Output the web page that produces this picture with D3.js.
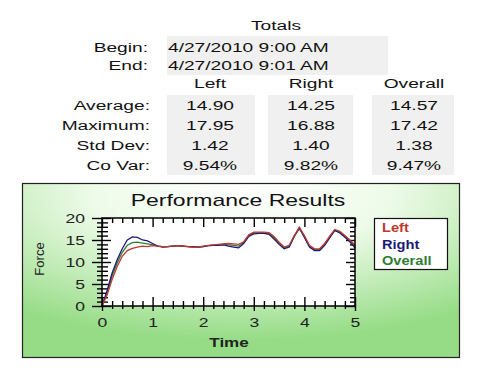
<!DOCTYPE html>
<html>
<head>
<meta charset="utf-8">
<script src="https://cdn.jsdelivr.net/npm/d3@7"></script>
<style>
  body { margin: 0; background: #fff; }
  svg { display: block; font-family: "Liberation Sans", Arial, sans-serif; }
</style>
</head>
<body>
<svg id="chart" width="500" height="375"></svg>
<script>
// Summary table
const dateLabels = ['Begin:', 'End:'];
const dateValues = ['4/27/2010 9:00 AM', '4/27/2010 9:01 AM'];
const columns = ['Left', 'Right', 'Overall'];
const statLabels = ['Average:', 'Maximum:', 'Std Dev:', 'Co Var:'];
const statValues = [
  ['14.90', '17.95', '1.42', '9.54%'],
  ['14.25', '16.88', '1.40', '9.82%'],
  ['14.57', '17.42', '1.38', '9.47%']
];

const time = [0, 0.1, 0.2, 0.3, 0.4, 0.5, 0.6, 0.7, 0.8, 0.9,
  1.0, 1.1, 1.2, 1.3, 1.4, 1.5, 1.6, 1.7, 1.8, 1.9,
  2.0, 2.1, 2.2, 2.3, 2.4, 2.5, 2.6, 2.7, 2.8, 2.9,
  3.0, 3.1, 3.2, 3.3, 3.4, 3.5, 3.6, 3.7, 3.8, 3.9,
  4.0, 4.1, 4.2, 4.3, 4.4, 4.5, 4.6, 4.7, 4.8, 4.9, 5.0];
const leftForce = [0, 2.5, 6, 9, 11.3, 12.6, 13.1, 13.4, 13.6, 13.5,
  13.7, 13.6, 13.5, 13.5, 13.6, 13.7, 13.6, 13.5, 13.4, 13.4,
  13.6, 13.8, 13.9, 14, 14.1, 14.2, 14.1, 14, 14.6, 16.2,
  16.8, 16.8, 16.8, 16.7, 15.8, 14.5, 13.4, 13.8, 16, 17.9,
  16, 13.8, 13, 13, 14.2, 15.9, 17.4, 17, 16, 15, 13.8];
const rightForce = [0, 3.5, 7.5, 10.5, 13, 15, 15.7, 15.6, 15, 14.8,
  14.2, 13.6, 13.4, 13.5, 13.6, 13.7, 13.6, 13.5, 13.5, 13.4,
  13.5, 13.7, 13.8, 13.8, 13.9, 13.6, 13.4, 13.2, 14.2, 15.8,
  16.4, 16.5, 16.5, 16.3, 15.2, 14, 13, 13.4, 15.8, 17.8,
  15.6, 13.4, 12.6, 12.6, 13.8, 15.5, 17.2, 16.6, 15.6, 14.6, 13.2];
const overallForce = [0, 3, 6.8, 9.8, 12.2, 13.8, 14.4, 14.5, 14.3, 14.1,
  13.9, 13.6, 13.5, 13.5, 13.6, 13.7, 13.6, 13.5, 13.4, 13.4,
  13.5, 13.7, 13.8, 13.9, 14, 13.9, 13.8, 13.6, 14.4, 16,
  16.6, 16.6, 16.6, 16.5, 15.5, 14.2, 13.2, 13.6, 15.9, 17.6,
  15.8, 13.6, 12.8, 12.8, 14, 15.7, 17.2, 16.8, 15.8, 14.8, 13.5];
const seriesNames = ['Left', 'Right', 'Overall'];
const seriesColors = ['#c0392b', '#1a1a7a', '#2e7d32'];
const xTicks = [0, 1, 2, 3, 4, 5];
const yTicks = [0, 5, 10, 15, 20];

const svg = d3.select('#chart');

// the source picture is stretched sideways, so text is widened to match
const SX = 1.42;
function label(x, y, str, size, anchor, opts = {}) {
  return svg.append('text')
    .attr('transform', `translate(${x},${y}) scale(${opts.sx || SX},1)`)
    .attr('text-anchor', anchor || 'start')
    .attr('font-size', size)
    .attr('font-weight', opts.bold ? 'bold' : null)
    .attr('fill', opts.fill || '#111')
    .text(str);
}

// ---- Totals table ----
label(276, 30, 'Totals', 13.5, 'middle');

svg.append('rect').attr('x', 167).attr('y', 36).attr('width', 221).attr('height', 39)
  .attr('fill', '#f0f0f0');
dateLabels.forEach((t, i) => {
  const y = 52 + i * 17.5;
  label(148, y, t, 13.5, 'end');
  label(168, y, dateValues[i], 13.5, 'start');
});

const colBoxes = [[167, 88], [268, 85], [372, 82]];
const colCenters = [210, 311, 414];
columns.forEach((c, i) => {
  label(colCenters[i], 88, c, 13.5, 'middle');
  svg.append('rect').attr('x', colBoxes[i][0]).attr('y', 95)
    .attr('width', colBoxes[i][1]).attr('height', 80).attr('fill', '#f0f0f0');
});
statLabels.forEach((t, r) => {
  const y = 110 + r * 20;
  label(150, y, t, 13.5, 'end');
  columns.forEach((c, i) => {
    label(colCenters[i], y, statValues[i][r], 13.5, 'middle');
  });
});

// ---- Chart panel ----
const defs = svg.append('defs');
const grad = defs.append('radialGradient').attr('id', 'panelBg')
  .attr('cx', '50%').attr('cy', '5%').attr('r', '85%');
grad.append('stop').attr('offset', '0%').attr('stop-color', '#ffffff');
grad.append('stop').attr('offset', '40%').attr('stop-color', '#eefbe9');
grad.append('stop').attr('offset', '100%').attr('stop-color', '#96dc86');

svg.append('rect').attr('x', 22.5).attr('y', 183.5).attr('width', 437).attr('height', 174)
  .attr('fill', 'url(#panelBg)').attr('stroke', '#222').attr('stroke-width', 1.2);

label(238, 206, 'Performance Results', 16.2, 'middle');

const plot = { left: 102, right: 355, top: 218, bottom: 306 };
const x = d3.scaleLinear().domain([0, 5]).range([plot.left, plot.right]);
const y = d3.scaleLinear().domain([0, 20]).range([plot.bottom, plot.top]);

svg.append('rect').attr('x', plot.left).attr('y', plot.top)
  .attr('width', plot.right - plot.left).attr('height', plot.bottom - plot.top)
  .attr('fill', '#fff');

const xMinor = d3.range(0, 5.001, 0.2).filter(v => Math.abs(v - Math.round(v)) > 1e-6);
const yMinor = d3.range(0, 20.001, 1).filter(v => v % 5 !== 0);

// tick marks: outward part "out", inward part "inn"
function ticks(axisFn, pos, values, out, inn, vertical) {
  const g = svg.append('g')
    .attr('transform', vertical ? `translate(${pos},0)` : `translate(0,${pos})`)
    .call(axisFn.tickValues(values).tickSize(out).tickFormat(''));
  g.select('.domain').remove();
  g.selectAll('.tick line').attr('stroke', '#000').attr('stroke-width', 1.4);
  if (vertical) g.selectAll('.tick line').attr('x1', inn);
  else g.selectAll('.tick line').attr('y1', inn);
  return g;
}
ticks(d3.axisBottom(x), plot.bottom, xMinor, 3, -5, false);
ticks(d3.axisBottom(x), plot.bottom, xTicks, 5, -9, false);
ticks(d3.axisBottom(x), plot.top, xMinor, 5, 0, false);
ticks(d3.axisBottom(x), plot.top, xTicks, 9, 0, false);
ticks(d3.axisLeft(y), plot.left, yMinor, 5, 6, true);
ticks(d3.axisLeft(y), plot.left, yTicks, 10, 9, true);
ticks(d3.axisLeft(y), plot.right, yMinor, 5, 0, true);
ticks(d3.axisLeft(y), plot.right, yTicks, 9, 0, true);

// Tick labels
const xLab = svg.append('g').attr('transform', `translate(0,${plot.bottom})`)
  .call(d3.axisBottom(x).tickValues(xTicks).tickFormat(d3.format('d')).tickSize(0).tickPadding(12));
xLab.select('.domain').remove();
xLab.selectAll('text').attr('font-size', 13).attr('font-family', '"Liberation Sans", Arial, sans-serif')
  .attr('fill', '#222').attr('transform', `scale(1.35,1)`);
const yLab = svg.append('g').attr('transform', `translate(85,0)`)
  .call(d3.axisLeft(y).tickValues(yTicks).tickFormat(d3.format('d')).tickSize(0).tickPadding(0));
yLab.select('.domain').remove();
yLab.selectAll('text').attr('font-size', 13).attr('font-family', '"Liberation Sans", Arial, sans-serif')
  .attr('fill', '#222').attr('x', 0).attr('dy', '0.36em')
  .attr('transform', `scale(1.35,1)`);

// Lines
const series = [leftForce, rightForce, overallForce];
const line = d3.line().x((d, i) => x(time[i])).y(d => y(d));
[2, 1, 0].forEach(s => {
  svg.append('path').datum(series[s]).attr('d', line)
    .attr('fill', 'none').attr('stroke', seriesColors[s]).attr('stroke-width', 1.3);
});

// Plot border
svg.append('rect').attr('x', plot.left).attr('y', plot.top)
  .attr('width', plot.right - plot.left).attr('height', plot.bottom - plot.top)
  .attr('fill', 'none').attr('stroke', '#000').attr('stroke-width', 1.5);

// Axis titles
label(229, 347, 'Time', 12, 'middle', { bold: true, fill: '#222' });
svg.append('text').attr('transform', 'translate(44,259) rotate(-90) scale(1.2,1.2)')
  .attr('text-anchor', 'middle').attr('font-size', 11).attr('fill', '#222').text('Force');

// Legend
svg.append('rect').attr('x', 374.5).attr('y', 218.5).attr('width', 73).attr('height', 51)
  .attr('fill', '#fff').attr('stroke', '#111').attr('stroke-width', 1.2);
seriesNames.forEach((n, i) => {
  label(382, 232 + i * 16.5, n, 12.5, 'start', { bold: true, fill: seriesColors[i], sx: 1.17 });
});
</script>
</body>
</html>
